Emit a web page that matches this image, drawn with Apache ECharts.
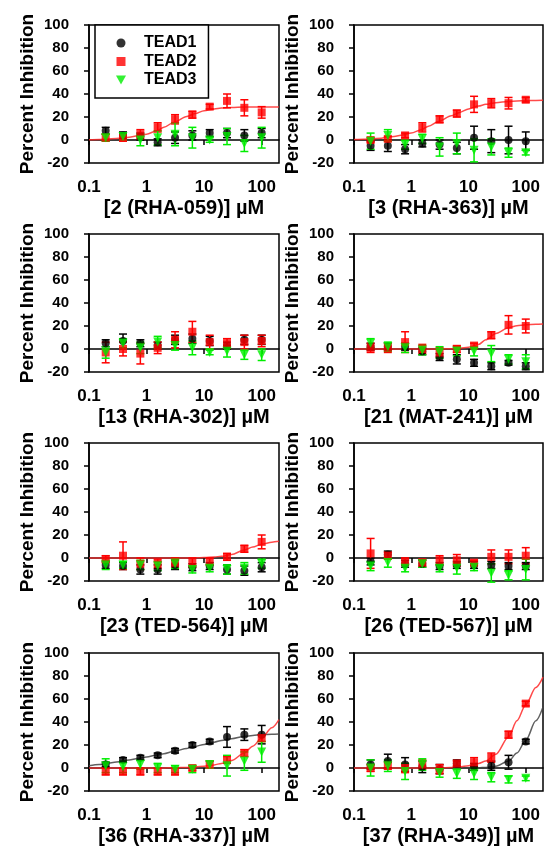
<!DOCTYPE html>
<html><head><meta charset="utf-8">
<script src="https://cdn.jsdelivr.net/npm/echarts@6/dist/echarts.min.js"></script>
<style>html,body{margin:0;padding:0;background:#fff}#c{width:547px;height:851px}</style>
</head><body><div id="c"></div>
<script>
// ---- data ----
const conc = [0.195, 0.39, 0.78, 1.56, 3.125, 6.25, 12.5, 25, 50, 100];
const panelTitles = ['[2 (RHA-059)] µM', '[3 (RHA-363)] µM', '[13 (RHA-302)] µM', '[21 (MAT-241)] µM',
  '[23 (TED-564)] µM', '[26 (TED-567)] µM', '[36 (RHA-337)] µM', '[37 (RHA-349)] µM'];
const seriesNames = ['TEAD1', 'TEAD2', 'TEAD3'];
const xTicks = [0.1, 1, 10, 100];
const yTicks = [-20, 0, 20, 40, 60, 80, 100];

const tead1Mean = [
  [8, 4, 3, -2, 2, 4, 6, 6, 4, 6],
  [-5, -5, -8, -3, -4, -7, 2, -1, 0, -1],
  [5, 7, 5, 3, 8, 9, 7, 3, 8, 8],
  [2, 2, 2, -2, -7, -9, -12, -15, -12, -15],
  [-6, -7, -10, -10, -6, -8, -7, -10, -11, -8],
  [-3, 3, -5, -5, -7, -6, -6, -6, -7, -7],
  [3, 7, 9, 11, 15, 20, 23, 27, 29, 29],
  [3, 6, 3, 1, -1, 4, 1, 2, 5, 23]
];
const tead1Err = [
  [3, 3, 3, 3, 5, 4, 3, 4, 5, 4],
  [4, 5, 4, 3, 4, 5, 10, 10, 12, 8],
  [3, 6, 3, 3, 4, 4, 4, 3, 4, 4],
  [3, 3, 3, 3, 3, 4, 3, 3, 2, 3],
  [3, 3, 4, 4, 4, 3, 3, 4, 4, 4],
  [3, 3, 3, 3, 3, 3, 3, 3, 3, 3],
  [2, 2, 2, 2, 2, 2, 2, 9, 5, 8],
  [4, 6, 6, 5, 4, 3, 3, 4, 6, 2]
];
const tead2Mean = [
  [2, 2, 5, 11, 18, 22, 29, 34, 28, 24],
  [0, 1, 4, 11, 18, 23, 31, 32, 32, 35],
  [-3, 0, -4, 1, 8, 15, 6, 5, 6, 7],
  [1, 1, 6, 0, -3, 0, 3, 12, 21, 20],
  [-1, 2, -5, -5, -4, -4, -3, 1, 8, 14],
  [4, 2, -3, -4, -2, -2, -4, 1, 1, 2],
  [-3, -3, -3, -3, -3, 0, 3, 7, 13, 26],
  [0, 2, 0, 3, -1, 4, 5, 9, 29, 56]
];
const tead2Err = [
  [3, 3, 4, 4, 4, 3, 2, 6, 7, 5],
  [2, 2, 2, 4, 3, 3, 7, 4, 5, 2],
  [9, 6, 9, 5, 7, 9, 6, 4, 6, 5],
  [4, 4, 9, 4, 4, 3, 2, 3, 8, 6],
  [3, 12, 5, 4, 4, 4, 3, 3, 3, 6],
  [13, 3, 3, 3, 4, 5, 2, 6, 6, 7],
  [3, 3, 3, 3, 3, 2, 3, 3, 3, 3],
  [3, 3, 4, 4, 4, 2, 4, 4, 3, 2]
];
const tead3Mean = [
  [2, 3, 0, 2, 5, 2, 0, 3, -3, 2],
  [-1, 4, -4, 1, -6, -3, -9, -6, -11, -11],
  [-3, 5, 1, 6, 3, 1, -3, -2, -5, -5],
  [5, 2, 1, -1, -3, -2, -2, -4, -9, -11],
  [-6, -6, -6, -7, -5, -10, -9, -10, -9, -5],
  [-7, -4, -9, -5, -9, -9, -8, -13, -15, -10],
  [2, 1, 3, 0, -1, -1, 3, 2, 6, 14],
  [0, 2, -3, 3, -4, -5, -5, -8, -10, -9]
];
const tead3Err = [
  [3, 3, 5, 6, 10, 9, 2, 7, 7, 9],
  [7, 5, 4, 4, 8, 9, 10, 7, 4, 2],
  [5, 4, 5, 5, 4, 6, 2, 5, 4, 5],
  [4, 4, 4, 4, 5, 4, 4, 7, 4, 6],
  [4, 3, 4, 4, 4, 3, 3, 4, 5, 4],
  [4, 4, 3, 3, 3, 5, 3, 8, 4, 9],
  [6, 5, 4, 4, 3, 3, 3, 9, 8, 9],
  [7, 5, 7, 5, 4, 4, 5, 4, 3, 2]
];

// fitted curves at these concentrations
const fitConc = [0.1, 0.15, 0.2, 0.3, 0.5, 0.7, 1, 1.5, 2, 3, 5, 7, 10, 15, 20, 30, 50, 70, 100, 150, 200];
const fitTead1 = [null, null, null, null, null, null,
  [2, 3, 4, 5.2, 7, 8.2, 9.5, 11.2, 12.5, 14.5, 17, 18.8, 20.5, 22.5, 24, 25.5, 27.5, 28.3, 29, 29.4, 29.6],
  [0, 0, 0, 0, 0, 0, 0, 0, 0, 0, 0, 0, 0, 0.2, 0.5, 1.5, 6, 13, 24, 41, 53]
];
const fitTead2 = [
  [0.3, 0.5, 0.8, 1.3, 2.5, 3.6, 5, 8, 11, 15.5, 20.5, 23, 25.5, 27, 27.8, 28.3, 28.6, 28.7, 28.7, 28.8, 28.8],
  [0.5, 0.7, 1, 1.6, 3, 4.3, 6, 9, 12, 16, 21, 24, 27, 29.5, 31, 32.5, 33.5, 34, 34.2, 34.4, 34.5],
  null,
  [0, 0, 0, 0, 0, 0, 0, 0, 0, 0, 0.3, 0.7, 1.5, 4, 8, 13.5, 18.5, 20.3, 21, 21.5, 21.7],
  [0, 0, 0, 0, 0, 0, 0, 0, 0, 0, 0.1, 0.2, 0.4, 0.9, 1.5, 3, 7, 9.5, 12, 13.8, 14.5],
  null,
  [0, 0, 0, 0, 0, 0, 0, 0, 0.1, 0.2, 0.5, 0.9, 1.5, 2.7, 4, 6.5, 13, 19, 26, 35, 42],
  [0, 0, 0, 0, 0, 0, 0, 0, 0, 0, 0.5, 1, 2, 4, 6, 12, 27, 41, 55, 70, 79]
];

// ---- styling / layout ----
const colors = ['#000000', '#ff0000', '#00ee00'];
const fitColors = ['#444444', '#ff2a2a'];
const triDown = 'path://M0,0 L10,0 L5,9 Z';
const square = 'path://M0,0 L10,0 L10,10 L0,10 Z';
const symbols = ['circle', square, triDown];
const symbolSizes = [8, 8, 9];
const colLeft = [89, 354];
const colWidth = [190, 189];
const rowTop = [25, 234, 443, 653];
const plotH = 138;
const FONT = 'Liberation Sans, Arial, sans-serif';

const grids = [], xAxes = [], yAxes = [], series = [];
const means = [tead1Mean, tead2Mean, tead3Mean];
const errs = [tead1Err, tead2Err, tead3Err];
const fits = [fitTead1, fitTead2];

for (let p = 0; p < 8; p++) {
  const col = p % 2, row = Math.floor(p / 2);
  grids.push({ left: colLeft[col], top: rowTop[row], width: colWidth[col], height: plotH,
    show: true, borderColor: '#000', borderWidth: 1.5, backgroundColor: 'transparent' });
  xAxes.push({
    type: 'log', gridIndex: p, min: 0.1, max: 200, logBase: 10,
    name: panelTitles[p], nameLocation: 'middle', nameGap: 35,
    nameTextStyle: { fontFamily: FONT, fontWeight: 'bold', fontSize: 20, color: '#000' },
    axisLine: { show: true, lineStyle: { color: '#000', width: 1.5 } },
    axisTick: { show: true, length: 5, lineStyle: { color: '#000', width: 1.5 }, customValues: xTicks },
    axisLabel: { fontFamily: FONT, fontWeight: 'bold', fontSize: 17, color: '#000', margin: 16,
      customValues: xTicks, formatter: v => String(v) },
    splitLine: { show: false }, minorTick: { show: false }
  });
  yAxes.push({
    type: 'value', gridIndex: p, min: -20, max: 100, interval: 20,
    name: 'Percent Inhibition', nameLocation: 'middle', nameGap: 52,
    nameTextStyle: { fontFamily: FONT, fontWeight: 'bold', fontSize: 19, color: '#000' },
    axisLine: { show: true, lineStyle: { color: '#000', width: 1.5 } },
    axisTick: { show: true, length: 5, lineStyle: { color: '#000', width: 1.5 } },
    axisLabel: { fontFamily: FONT, fontWeight: 'bold', fontSize: 15, color: '#000', margin: 20 },
    splitLine: { show: false }
  });
  // fitted curves
  for (let s = 0; s < 2; s++) {
    const f = fits[s][p];
    if (!f) continue;
    series.push({
      type: 'line', name: 'fit-' + seriesNames[s], xAxisIndex: p, yAxisIndex: p,
      data: fitConc.map((c, i) => [c, f[i]]), smooth: 0.3, smoothMonotone: 'x',
      showSymbol: false, symbol: 'none', silent: true, z: 1,
      lineStyle: { color: fitColors[s], width: 1.5, opacity: 0.85 }
    });
  }
  // error bars
  for (let s = 0; s < 3; s++) {
    series.push({
      type: 'custom', name: seriesNames[s] + '-err', xAxisIndex: p, yAxisIndex: p, z: 2, silent: true,
      data: conc.map((c, i) => [c, means[s][p][i], errs[s][p][i]]),
      renderItem: (params, api) => {
        const x = api.value(0), m = api.value(1), e = api.value(2);
        const top = api.coord([x, m + e]), bot = api.coord([x, m - e]);
        const hw = 4;
        const st = { stroke: colors[s], lineWidth: 1.5 };
        return { type: 'group', children: [
          { type: 'line', shape: { x1: top[0], y1: top[1], x2: bot[0], y2: bot[1] }, style: st },
          { type: 'line', shape: { x1: top[0] - hw, y1: top[1], x2: top[0] + hw, y2: top[1] }, style: st },
          { type: 'line', shape: { x1: bot[0] - hw, y1: bot[1], x2: bot[0] + hw, y2: bot[1] }, style: st }
        ] };
      }
    });
  }
  // markers
  for (let s = 0; s < 3; s++) {
    series.push({
      type: 'scatter', name: seriesNames[s], xAxisIndex: p, yAxisIndex: p, z: 3 + s,
      symbol: symbols[s], symbolSize: symbolSizes[s],
      itemStyle: { color: colors[s] },
      data: conc.map((c, i) => [c, means[s][p][i]])
    });
  }
}

const chart = echarts.init(document.getElementById('c'), null, { renderer: 'canvas' });
chart.setOption({
  backgroundColor: '#fff',
  animation: false,
  grid: grids, xAxis: xAxes, yAxis: yAxes, series: series,
  legend: {
    data: seriesNames.map((n, i) => ({ name: n, icon: symbols[i] })),
    orient: 'vertical', left: 95, top: 25,
    padding: [10, 12, 10, 21], itemGap: 2.5, itemWidth: 36, itemHeight: 9,
    backgroundColor: '#fff', borderColor: '#000', borderWidth: 1.5,
    textStyle: { fontFamily: FONT, fontWeight: 'bold', fontSize: 16, color: '#000' },
    selectedMode: false
  }
});
</script></body></html>
